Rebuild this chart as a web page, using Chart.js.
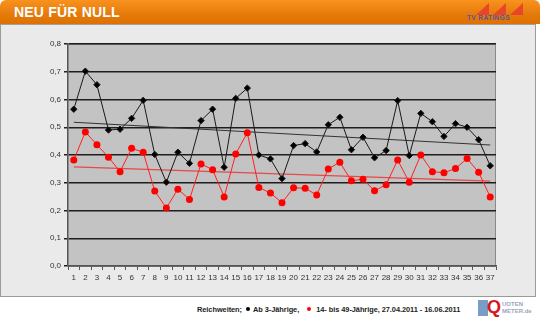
<!DOCTYPE html>
<html>
<head>
<meta charset="utf-8">
<script src="https://cdn.jsdelivr.net/npm/chart.js@4/dist/chart.umd.min.js"></script>
<style>
  body { margin: 0; width: 540px; height: 317px; background: #fff; font-family: "Liberation Sans", Arial, sans-serif; position: relative; overflow: hidden; }
  #head { position: absolute; left: 0; top: 0; width: 540px; height: 24px; border-radius: 6px 6px 0 0;
          background: linear-gradient(#f9921f, #e57a0a 60%, #dd7000); }
  #head .title { position: absolute; left: 14px; top: 4px; color: #fff; font-weight: bold; font-size: 14px; letter-spacing: 0.2px; }
  .tri { position: absolute; top: 3px; width: 0; height: 0; border-left: 13px solid transparent; border-bottom: 12px solid #e8452a; }
  #tvr { position: absolute; left: 467px; top: 14px; font-size: 6.5px; font-weight: bold; color: #55559a; letter-spacing: 0.4px; }
  #panel { position: absolute; left: 0; top: 24px; width: 534px; height: 271px; background: #eaeaea; border: 1px solid #9a9a9a; border-top: 1px solid #a0a0a0; }
  #wrap { position: absolute; left: 0; top: 24px; width: 540px; height: 273px; }
  #foot { position: absolute; left: 197px; top: 305px; font-size: 7.4px; font-weight: bold; color: #222; white-space: nowrap; letter-spacing: -0.05px; }
  #foot .d { display: inline-block; width: 4px; height: 4px; border-radius: 50%; margin: 0 3px 1px 0; }
  #qm { position: absolute; left: 478px; top: 298px; width: 58px; height: 19px; }
  #qm .b { position: absolute; left: 0; top: 2px; width: 10px; height: 16px; background: #7a9cc8; }
  #qm .q { position: absolute; left: 9px; top: -1px; font-size: 18px; font-weight: bold; color: #d8161e; }
  #qm .t { position: absolute; left: 24px; top: 3px; font-size: 6px; font-weight: bold; color: #9aa6b8; line-height: 7px; }
</style>
</head>
<body>
<div id="head">
  <div class="title">NEU FÜR NULL</div>
  <div class="tri" style="left:476px"></div>
  <div class="tri" style="left:493px"></div>
  <div class="tri" style="left:510px"></div>
  <div id="tvr">TV RATINGS</div>
</div>
<div id="panel"></div>
<div id="wrap"><canvas id="c" width="540" height="273"></canvas></div>
<div id="foot">Reichweiten;&nbsp; <span class="d" style="background:#000"></span>Ab 3-Jährige,&nbsp;&nbsp;&nbsp; <span class="d" style="background:#f00"></span>&nbsp;14- bis 49-Jährige, 27.04.2011 - 16.06.2011</div>
<div id="qm"><div class="b"></div><div class="q">Q</div><div class="t">UOTEN<br>METER.de</div></div>
<script>
const categories = ['1','2','3','4','5','6','7','8','9','10','11','12','13','14','15','16','17','18','19','20','21','22','23','24','25','26','27','28','29','30','31','32','33','34','35','36','37'];
const ab3 = [0.565, 0.702, 0.653, 0.490, 0.493, 0.532, 0.597, 0.402, 0.302, 0.410, 0.370, 0.524, 0.565, 0.356, 0.604, 0.641, 0.400, 0.386, 0.315, 0.434, 0.441, 0.411, 0.509, 0.536, 0.419, 0.464, 0.390, 0.416, 0.596, 0.398, 0.550, 0.520, 0.467, 0.513, 0.500, 0.455, 0.361];
const j1449 = [0.382, 0.483, 0.437, 0.392, 0.340, 0.424, 0.410, 0.270, 0.209, 0.277, 0.240, 0.368, 0.347, 0.249, 0.404, 0.480, 0.283, 0.263, 0.228, 0.282, 0.280, 0.256, 0.350, 0.374, 0.307, 0.313, 0.271, 0.293, 0.382, 0.302, 0.400, 0.340, 0.336, 0.351, 0.387, 0.338, 0.249];
// trend lines, start and end
const trendAb3 = [0.518, 0.436];
const trendJ1449 = [0.357, 0.306];
const yTicks = ['0,0','0,1','0,2','0,3','0,4','0,5','0,6','0,7','0,8'];

function trendData(t) {
  return categories.map((c, i) => i === 0 ? t[0] : (i === categories.length - 1 ? t[1] : null));
}

const plotBg = {
  id: 'plotBg',
  beforeDraw(chart) {
    const { ctx, chartArea: a } = chart;
    ctx.save();
    ctx.fillStyle = '#c3c3c3';
    ctx.fillRect(a.left, a.top, a.right - a.left, a.bottom - a.top);
    ctx.strokeStyle = '#8a8a8a';
    ctx.lineWidth = 1;
    ctx.beginPath();
    ctx.moveTo(a.left, a.top + 0.5);
    ctx.lineTo(a.right - 0.5, a.top + 0.5);
    ctx.lineTo(a.right - 0.5, a.bottom);
    ctx.stroke();
    ctx.restore();
  }
};

new Chart(document.getElementById('c'), {
  type: 'line',
  data: {
    labels: categories,
    datasets: [
      { label: 'Ab 3-Jährige', data: ab3, borderColor: '#1a1a1a', backgroundColor: '#000', borderWidth: 1,
        pointStyle: 'rectRot', pointRadius: 3.2, tension: 0 },
      { label: '14- bis 49-Jährige', data: j1449, borderColor: '#ff2020', backgroundColor: '#ff0000', borderWidth: 1,
        pointStyle: 'circle', pointRadius: 3.5, pointBorderWidth: 0, tension: 0 },
      { label: 'Trend Ab 3', data: trendData(trendAb3), spanGaps: true, borderColor: '#333', borderWidth: 1, pointRadius: 0 },
      { label: 'Trend 14-49', data: trendData(trendJ1449), spanGaps: true, borderColor: '#e84848', borderWidth: 1.2, pointRadius: 0 }
    ]
  },
  options: {
    responsive: false,
    animation: false,
    layout: { padding: { left: 0, right: 44, top: 20, bottom: 0 } },
    plugins: { legend: { display: false }, tooltip: { enabled: false } },
    scales: {
      x: {
        offset: true,
        afterFit: s => { s.height = 31; },
        border: { color: '#555', width: 1.5 },
        grid: { drawOnChartArea: false, drawTicks: true, tickLength: 4, color: '#555', offset: true },
        ticks: { color: '#333', font: { family: 'Liberation Sans', size: 8 }, padding: 3, maxRotation: 0, autoSkip: false }
      },
      y: {
        min: 0, max: 0.8,
        afterFit: s => { s.width = 68; },
        border: { color: '#555', width: 1.5 },
        grid: { color: '#1e1e1e', lineWidth: 1.5, tickLength: 4, drawTicks: true },
        ticks: { stepSize: 0.1, color: '#333', font: { family: 'Liberation Sans', size: 8 }, padding: 3,
                 callback: (v, i) => yTicks[i] }
      }
    }
  },
  plugins: [plotBg]
});
</script>
</body>
</html>
